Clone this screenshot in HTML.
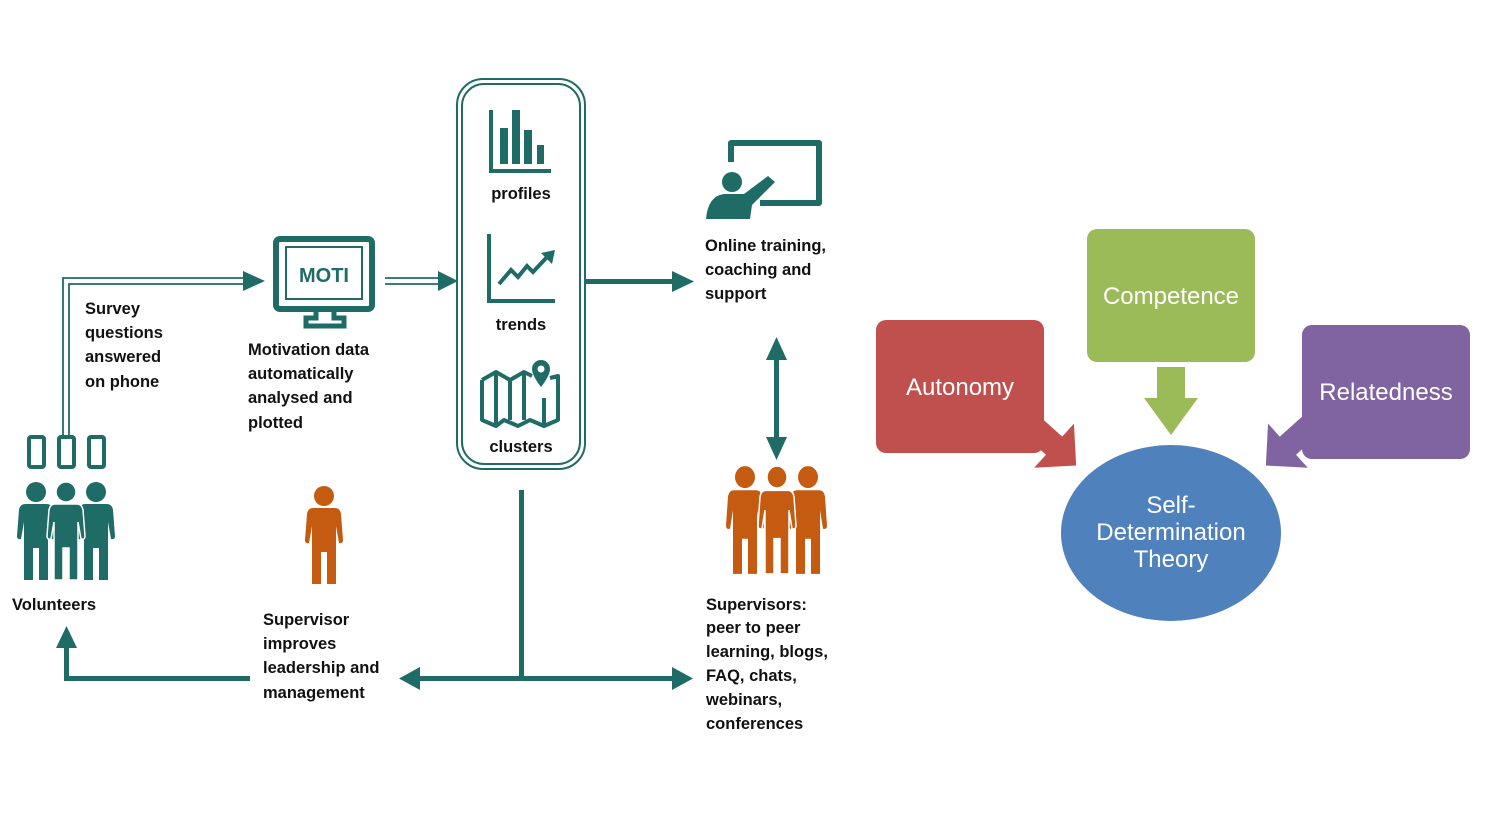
<!DOCTYPE html>
<html><head><meta charset="utf-8"><style>
html,body{margin:0;padding:0;background:#fff;}
svg{display:block;}
.t{font-family:"Liberation Sans",sans-serif;font-weight:bold;font-size:16.5px;fill:#111;}
.w{font-family:"Liberation Sans",sans-serif;font-size:24px;fill:#fff;}
</style></head><body>
<svg width="1486" height="830" viewBox="0 0 1486 830" xmlns="http://www.w3.org/2000/svg">
<defs>
<g id="p">
<circle cx="0" cy="0" r="10"/>
<path d="M-11,12 H11 Q16,12 17,18 L19,44 Q19,48 15,47 L12,30 V88 H3 V56 H-3 V88 H-12 V30 L-15,47 Q-19,48 -19,44 L-17,18 Q-16,12 -11,12 Z"/>
</g>
<polygon id="arr" points="0,-9 24,-9 24,-22 46,0 24,22 24,9 0,9"/>
</defs>
<g fill="#1f6b66">
 <g fill="none" stroke="#1f6b66" stroke-width="4">
  <rect x="29" y="437" width="15" height="30" rx="2"/>
  <rect x="59" y="437" width="15" height="30" rx="2"/>
  <rect x="89" y="437" width="15" height="30" rx="2"/>
 </g>
 <use href="#p" x="36" y="492"/>
 <use href="#p" x="96" y="492"/>
 <use href="#p" x="66" y="492" stroke="#fff" stroke-width="1.5"/>
</g>
<g fill="none" stroke="#1f6b66" stroke-width="1.8">
 <path d="M63,436 V278 H248"/>
 <path d="M69,436 V284 H248"/>
 <path d="M385,278 H440"/><path d="M385,284 H440"/>
</g>
<polygon points="243,271 265,281 243,291" fill="#1f6b66"/>
<polygon points="438,271 458,281 438,291" fill="#1f6b66"/>
<rect x="276" y="239" width="96" height="70" rx="4" fill="none" stroke="#1f6b66" stroke-width="6"/>
<rect x="286" y="247" width="76" height="52" fill="none" stroke="#1f6b66" stroke-width="2"/>
<path d="M316,310 V318 H306 V326 H344 V318 H334 V310" fill="none" stroke="#1f6b66" stroke-width="5"/>
<text x="324" y="282" text-anchor="middle" font-family="Liberation Sans,sans-serif" font-weight="bold" font-size="20" fill="#1f6b66">MOTI</text>
<rect x="457" y="79" width="128" height="390" rx="26" fill="none" stroke="#1f6b66" stroke-width="2"/>
<rect x="462" y="84" width="118" height="380" rx="22" fill="none" stroke="#1f6b66" stroke-width="2"/>
<g fill="#1f6b66">
 <rect x="489" y="110" width="4" height="62"/><rect x="489" y="169" width="62" height="4"/>
 <rect x="500" y="128" width="8" height="36"/><rect x="512" y="110" width="8" height="54"/>
 <rect x="524" y="130" width="8" height="34"/><rect x="537" y="145" width="7" height="19"/>
</g>
<text class="t" x="521" y="199" text-anchor="middle">profiles</text>
<g fill="none" stroke="#1f6b66" stroke-width="4">
 <path d="M489,234 V301 H555"/>
 <path d="M499,284 L511,270 L518,277 L527,266 L533,272 L548,256"/>
</g>
<polygon points="541,253 555,250 552,264" fill="#1f6b66"/>
<text class="t" x="521" y="330" text-anchor="middle">trends</text>
<g fill="none" stroke="#1f6b66" stroke-width="4" stroke-linejoin="round">
 <path d="M482,380 L496,372 L510,380 L524,372 L532,376 M550,378 L558,376 V420 L544,426 L530,420 L518,426 L504,420 L496,426 L482,420 V380"/>
 <path d="M496,372 V426 M510,380 V420 M524,372 V420 M544,398 V426"/>
</g>
<path d="M541,360 a9,9 0 0 1 9,9 c0,7 -9,18 -9,18 c0,0 -9,-11 -9,-18 a9,9 0 0 1 9,-9z" fill="#1f6b66"/>
<circle cx="541" cy="369" r="3.5" fill="#fff"/>
<text class="t" x="521" y="452" text-anchor="middle">clusters</text>
<rect x="586" y="279" width="92" height="5" fill="#1f6b66"/>
<polygon points="672,271 694,281.5 672,292" fill="#1f6b66"/>
<path d="M731,162 V143 H819 V203 H760" fill="none" stroke="#1f6b66" stroke-width="6" stroke-linejoin="round"/>
<circle cx="732" cy="182" r="10" fill="#1f6b66"/>
<path d="M706,219 Q708,196 724,194 L744,194 L768,176 L775,182 L752,205 L750,219 Z" fill="#1f6b66"/>
<text class="t"><tspan x="705" y="251">Online training,</tspan><tspan x="705" y="275">coaching and</tspan><tspan x="705" y="299">support</tspan></text>
<rect x="774" y="352" width="5" height="92" fill="#1f6b66"/>
<polygon points="766,360 776.5,337 787,360" fill="#1f6b66"/>
<polygon points="766,437 776.5,460 787,437" fill="#1f6b66"/>
<g fill="#c55a11">
 <use href="#p" x="324" y="496"/>
 <g transform="translate(0,-52) scale(1,1.1)">
  <use href="#p" x="745" y="481"/>
  <use href="#p" x="808" y="481"/>
  <use href="#p" x="777" y="481" stroke="#fff" stroke-width="1.5"/>
 </g>
</g>
<rect x="519" y="490" width="5" height="190" fill="#1f6b66"/>
<rect x="415" y="676" width="262" height="5" fill="#1f6b66"/>
<polygon points="420,667 399,678.5 420,690" fill="#1f6b66"/>
<polygon points="672,667 693,678.5 672,690" fill="#1f6b66"/>
<path d="M250,678.5 H66.5 V645" fill="none" stroke="#1f6b66" stroke-width="5"/>
<polygon points="56,648 66.5,626 77,648" fill="#1f6b66"/>
<text class="t"><tspan x="85" y="314">Survey</tspan><tspan x="85" y="338">questions</tspan><tspan x="85" y="362">answered</tspan><tspan x="85" y="387">on phone</tspan></text>
<text class="t"><tspan x="248" y="355">Motivation data</tspan><tspan x="248" y="379">automatically</tspan><tspan x="248" y="403">analysed and</tspan><tspan x="248" y="428">plotted</tspan></text>
<text class="t" x="12" y="610">Volunteers</text>
<text class="t"><tspan x="263" y="625">Supervisor</tspan><tspan x="263" y="649">improves</tspan><tspan x="263" y="673">leadership and</tspan><tspan x="263" y="698">management</tspan></text>
<text class="t"><tspan x="706" y="610">Supervisors:</tspan><tspan x="706" y="633">peer to peer</tspan><tspan x="706" y="657">learning, blogs,</tspan><tspan x="706" y="681">FAQ, chats,</tspan><tspan x="706" y="705">webinars,</tspan><tspan x="706" y="729">conferences</tspan></text>
<use href="#arr" fill="#c0504d" transform="translate(1030,424) rotate(42) scale(1.35)"/>
<use href="#arr" fill="#8064a2" transform="translate(1312,424) rotate(138) scale(1.35)"/>
<rect x="876" y="320" width="168" height="133" rx="10" fill="#c0504d"/>
<rect x="1087" y="229" width="168" height="133" rx="10" fill="#9bbb59"/>
<rect x="1302" y="325" width="168" height="134" rx="10" fill="#8064a2"/>
<polygon points="1157,367 1185,367 1185,398 1198,398 1171,435 1144,398 1157,398" fill="#9bbb59"/>
<ellipse cx="1171" cy="533" rx="110" ry="88" fill="#4f81bd"/>
<text class="w" x="960" y="395" text-anchor="middle">Autonomy</text>
<text class="w" x="1171" y="304" text-anchor="middle">Competence</text>
<text class="w" x="1386" y="400" text-anchor="middle">Relatedness</text>
<text class="w" font-size="21" text-anchor="middle"><tspan x="1171" y="513">Self-</tspan><tspan x="1171" y="540">Determination</tspan><tspan x="1171" y="567">Theory</tspan></text>
</svg>
</body></html>
